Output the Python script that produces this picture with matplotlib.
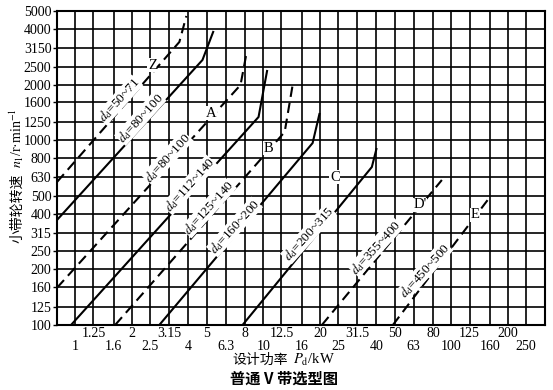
import numpy as np
import matplotlib
matplotlib.use("Agg")
import matplotlib.pyplot as plt
from matplotlib.ticker import NullLocator

plt.rcParams['font.family'] = ['Liberation Serif', 'Noto Sans CJK SC']
plt.rcParams['mathtext.fontset'] = 'stix'

# axis ticks (R10 series)
n_ticks = [100, 125, 160, 200, 250, 315, 400, 500, 630, 800, 1000, 1250,
           1600, 2000, 2500, 3150, 4000, 5000]
p_lower = [1, 1.6, 2.5, 4, 6.3, 10, 16, 25, 40, 63, 100, 160, 250]
p_upper = [1.25, 2, 3.15, 5, 8, 12.5, 20, 31.5, 50, 80, 125, 200]

# belt selection lines: design power Pd (kW) vs small pulley speed n1 (r/min)
z_dash_p = [0.8, 3.58, 3.90]
z_dash_n = [594, 3400, 4700]
z_solid_p = [0.8, 4.75, 5.44]
z_solid_n = [370, 2716, 3900]
a_dash_p = [0.8, 7.57, 8.15]
a_dash_n = [159, 1990, 2964]
a_solid_p = [0.95, 9.44, 10.5]
a_solid_n = [100, 1335, 2398]
b_dash_p = [1.63, 13.0, 14.3]
b_dash_n = [100, 1108, 1965]
b_solid_p = [2.80, 18.3, 19.95]
b_solid_n = [100, 965, 1403]
c_solid_p = [7.76, 37.8, 40.1]
c_solid_n = [100, 716, 907]
d_dash_p = [20.5, 89.1]
d_dash_n = [100, 609]
e_dash_p = [48.9, 160.6]
e_dash_n = [100, 493]

fig = plt.figure(figsize=(5.53, 3.90), dpi=100)
ax = fig.add_axes([57 / 553, 65 / 390, 488 / 553, 314 / 390])
ax.set_xscale('log')
ax.set_yscale('log')
ax.set_xlim(0.8, 315)
ax.set_ylim(100, 5000)

lw = 1.5
dash = (0, (5, 2.8))
for p, n, ls in [(z_dash_p, z_dash_n, dash), (z_solid_p, z_solid_n, '-'),
                 (a_dash_p, a_dash_n, dash), (a_solid_p, a_solid_n, '-'),
                 (b_dash_p, b_dash_n, dash), (b_solid_p, b_solid_n, '-'),
                 (c_solid_p, c_solid_n, '-'), (d_dash_p, d_dash_n, dash),
                 (e_dash_p, e_dash_n, dash)]:
    ax.plot(p, n, color='black', lw=lw, ls=ls, zorder=3, solid_capstyle='butt')

# grid
ax.set_yticks(n_ticks, labels=[str(v) for v in n_ticks])
ax.yaxis.set_minor_locator(NullLocator())
ax.set_xticks(p_lower, labels=[str(v) for v in p_lower])
ax.set_xticks(p_upper, labels=[str(v) for v in p_upper], minor=True)
ax.grid(True, which='both', axis='x', color='black', lw=1.2)
ax.grid(True, which='major', axis='y', color='black', lw=1.2)
ax.tick_params(axis='x', which='major', length=0, pad=11, labelsize=10)
ax.tick_params(axis='x', which='minor', length=0, pad=1.5, labelsize=10)
ax.tick_params(axis='y', which='major', length=3, width=1, pad=1, labelsize=10)
for s in ax.spines.values():
    s.set_linewidth(1.5)

# line labels
white = dict(facecolor='white', edgecolor='none', pad=0.5)
labels_dd = [
    (1.716, 1650, '50~71'),
    (2.22, 1319, '80~100'),
    (3.09, 801, '80~100'),
    (4.05, 572, '112~140'),
    (5.11, 430, '125~140'),
    (7.03, 339, '160~200'),
    (17.4, 311, '200~315'),
    (39.7, 264, '355~400'),
    (72.3, 198, '450~500'),
]
for p, n, txt in labels_dd:
    ax.text(p, n, r'$d_{\rm d}$=' + txt, rotation=48, rotation_mode='anchor',
            ha='center', va='center', fontsize=9.5,
            bbox=dict(facecolor='white', edgecolor='none', pad=0), zorder=4)

for p, n, txt in [(2.57, 2550, 'Z'), (5.30, 1403, 'A'), (10.67, 907, 'B'),
                  (24.0, 632, 'C'), (68.0, 446, "D'"), (133.6, 394, 'E')]:
    ax.text(p, n, txt, ha='center', va='center', fontsize=10.5, bbox=white, zorder=4)

# axis titles: CJK part and math part drawn as separate texts
cjk = ['Noto Sans CJK SC', 'DejaVu Sans']
yl = fig.text(17 / 553, 1 - 243 / 390, '小带轮转速', rotation=90, ha='center',
              va='bottom', fontsize=10, family=cjk)
ax.annotate('$n_1$/r·min$^{-1}$', xy=(0.5, 1.0), xycoords=yl, xytext=(0, 4),
            textcoords='offset points', rotation=90, ha='center', va='bottom',
            fontsize=10, annotation_clip=False)

xl = fig.text(232 / 553, 1 - 360 / 390, '设计功率', ha='left', va='center',
              fontsize=10, family=cjk)
ax.annotate('$P_{\\rm d}$/kW', xy=(1.0, 0.5), xycoords=xl, xytext=(4, 0),
            textcoords='offset points', ha='left', va='center',
            fontsize=10.5, annotation_clip=False)

fig.text(284 / 553, 1 - 379 / 390, '普通 V 带选型图', ha='center', va='center',
         fontsize=11, fontweight='bold', family=cjk)

fig.savefig('out.png', dpi=100)
